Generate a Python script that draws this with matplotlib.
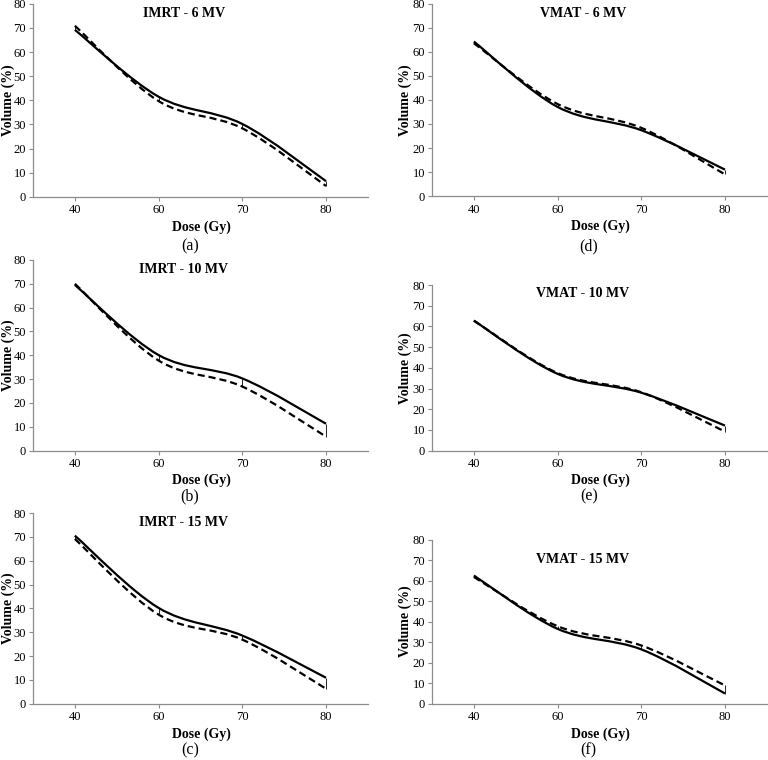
import matplotlib
matplotlib.use('Agg')
import matplotlib.pyplot as plt
import numpy as np
from matplotlib.path import Path
from matplotlib.patches import PathPatch

plt.rcParams['font.family'] = ['Liberation Serif', 'DejaVu Serif']

# dose categories (Excel category axis -> equally spaced)
doses = ['40', '60', '70', '80']

# volume (%); solid / dashed series per panel
imrt6_solid = [69.2, 41.5, 30.2, 6.5]
imrt6_dash = [70.9, 39.7, 28.4, 4.5]
imrt10_solid = [69.5, 40.1, 30.3, 11.3]
imrt10_dash = [70.0, 37.8, 26.9, 5.9]
imrt15_solid = [70.5, 40.2, 28.6, 10.9]
imrt15_dash = [69.1, 37.4, 26.9, 6.3]
vmat6_solid = [64.3, 37.1, 27.4, 11.0]
vmat6_dash = [63.6, 38.3, 28.4, 9.0]
vmat10_solid = [62.8, 37.1, 28.0, 12.1]
vmat10_dash = [62.8, 37.5, 28.2, 9.2]
vmat15_solid = [62.5, 36.5, 26.5, 5.0]
vmat15_dash = [61.8, 37.8, 28.4, 8.9]

titles = ['IMRT - 6 MV', 'IMRT - 10 MV', 'IMRT - 15 MV',
          'VMAT - 6 MV', 'VMAT - 10 MV', 'VMAT - 15 MV']
letters = ['(a)', '(b)', '(c)', '(d)', '(e)', '(f)']


def smooth_path(y):
    # Excel-like smoothed line: cubic bezier segments through the points
    x = np.arange(len(y), dtype=float)
    pts = np.column_stack([x, np.asarray(y, dtype=float)])
    n = len(pts)
    verts = [pts[0]]
    codes = [Path.MOVETO]
    for i in range(n - 1):
        p0 = pts[max(i - 1, 0)]
        p1 = pts[i]
        p2 = pts[i + 1]
        p3 = pts[min(i + 2, n - 1)]
        c1 = p1 + (p2 - p0) / 6.
        c2 = p2 - (p3 - p1) / 6.
        verts += [c1, c2, p2]
        codes += [Path.CURVE4] * 3
    return Path(verts, codes)


W, H = 768, 760
fig = plt.figure(figsize=(W / 100, H / 100), dpi=100)

# [left, bottom, width, height]
boxes = [
    [0.043, 0.741, 0.436, 0.254],
    [0.043, 0.407, 0.436, 0.251],
    [0.043, 0.074, 0.436, 0.251],
    [0.5625, 0.742, 0.436, 0.253],
    [0.5625, 0.407, 0.436, 0.218],
    [0.5625, 0.074, 0.436, 0.216],
]
series = [
    (imrt6_solid, imrt6_dash), (imrt10_solid, imrt10_dash),
    (imrt15_solid, imrt15_dash), (vmat6_solid, vmat6_dash),
    (vmat10_solid, vmat10_dash), (vmat15_solid, vmat15_dash),
]
title_y = [0.985, 0.985, 0.985, 0.985, 0.985, 0.92]
letter_px = [50, 46, 47, 50, 46, 47]
ylab_px = [25, 25, 25, 27, 27, 27]

for k in range(6):
    ax = fig.add_axes(boxes[k])
    wpx = boxes[k][2] * W
    hpx = boxes[k][3] * H
    s, d = series[k]
    x = np.arange(len(doses))
    # thin high-low lines between the two series
    ax.vlines(x, np.minimum(s, d), np.maximum(s, d), colors='black', linewidth=0.6)
    ax.add_patch(PathPatch(smooth_path(s), facecolor='none', edgecolor='black',
                           linewidth=1.6, capstyle='butt'))
    ax.add_patch(PathPatch(smooth_path(d), facecolor='none', edgecolor='black',
                           linewidth=1.6, linestyle=(0, (3.2, 1.8)), capstyle='butt'))
    ax.set_xlim(-0.5, 3.5)
    ax.set_ylim(0, 80)
    ax.set_xticks(x)
    ax.set_xticklabels(doses)
    ax.set_yticks(np.arange(0, 81, 10))
    for sp in ['top', 'right']:
        ax.spines[sp].set_visible(False)
    for sp in ['left', 'bottom']:
        ax.spines[sp].set_color('#8c8c8c')
        ax.spines[sp].set_linewidth(0.9)
    ax.tick_params(axis='both', labelsize=9, color='#8c8c8c', length=3, width=0.8)
    ax.tick_params(axis='x', pad=2.5)
    ax.tick_params(axis='y', pad=2)
    ax.set_xlabel('Dose (Gy)', fontsize=10, fontweight='bold')
    ax.set_ylabel('Volume (%)', fontsize=10, fontweight='bold')
    ax.xaxis.set_label_coords(0.504, -30 / hpx)
    ax.yaxis.set_label_coords(-ylab_px[k] / wpx, 0.5)
    ax.xaxis.label.set_va('center')
    ax.yaxis.label.set_va('center')
    ax.text(0.45, title_y[k], titles[k], transform=ax.transAxes, ha='center',
            va='top', fontsize=10, fontweight='bold')
    ax.text(0.468, -letter_px[k] / hpx, letters[k], transform=ax.transAxes,
            ha='center', va='center', fontsize=11.5)

fig.savefig('out.png', dpi=100)
